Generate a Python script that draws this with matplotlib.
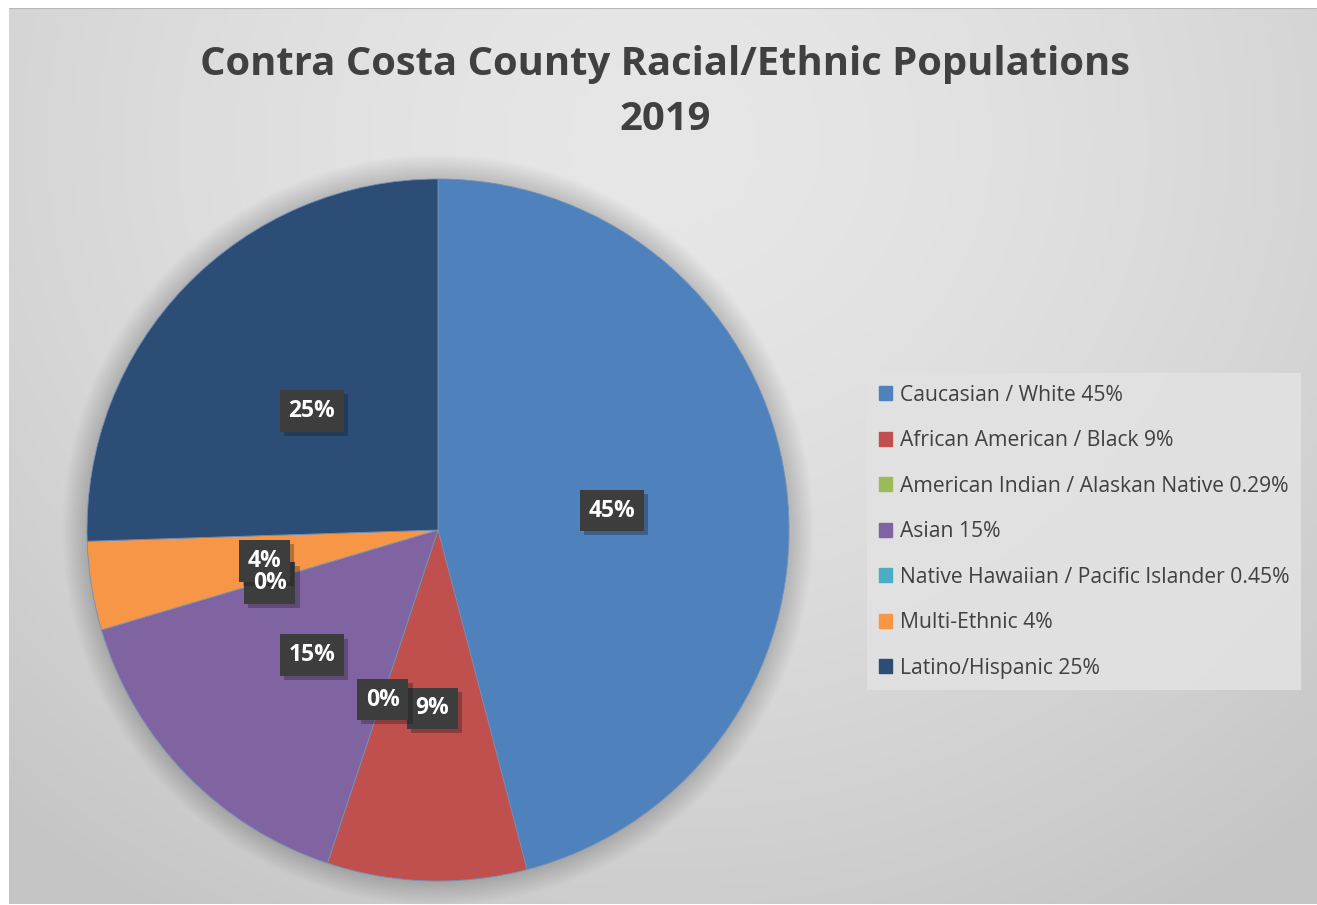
import numpy as np
import matplotlib
matplotlib.use("Agg")
import matplotlib.pyplot as plt
import matplotlib.patheffects as pe
from matplotlib.patches import Circle

# category names as shown in the legend
groups = ["Caucasian / White 45%", "African American / Black 9%",
          "American Indian / Alaskan Native 0.29%", "Asian 15%",
          "Native Hawaiian / Pacific Islander 0.45%", "Multi-Ethnic 4%",
          "Latino/Hispanic 25%"]
# slice values (whole percent)
shares = [45, 9, 0, 15, 0, 4, 25]
colors = ["#4F81BD", "#C0504D", "#9BBB59", "#8064A2",
          "#4BACC6", "#F79646", "#2C4D75"]

TXT = "#404040"
W, H = 1317, 905

fig = plt.figure(figsize=(W / 100, H / 100), dpi=100)
fig.patch.set_facecolor("white")

# gray radial backdrop
bg = fig.add_axes([9 / W, 1 / H, 1 - 9 / W, 1 - 9 / H])
yy, xx = np.mgrid[0:1:400j, 0:1:600j]
d = np.sqrt(((xx - 0.5) / 0.75) ** 2 + ((yy - 0.15) / 1.0) ** 2)
shade = 0.905 - 0.13 * np.clip(d, 0, 1) ** 1.6
bg.imshow(np.dstack([shade] * 3), extent=[0, 1, 0, 1], origin="upper",
          aspect="auto", interpolation="bilinear")
bg.axhline(1, color="#b8b8b8", lw=1.5)
bg.axis("off")

fig.text(0.505, 1 - 64 / H, "Contra Costa County Racial/Ethnic Populations",
         ha="center", va="center", fontsize=28.8, fontweight="bold",
         color=TXT, family="Open Sans")
fig.text(0.505, 1 - 120 / H, "2019", ha="center", va="center",
         fontsize=28.8, fontweight="bold", color=TXT, family="Open Sans")

# pie axes: centre (438, 530) px, radius 351 px
cx, cy, r = 438, 530, 351
ax = fig.add_axes([(cx - r) / W, (H - cy - r) / H, 2 * r / W, 2 * r / H])

wedges, _ = ax.pie(shares, colors=colors, startangle=90, counterclock=False,
                   radius=1, wedgeprops=dict(linewidth=0.6, edgecolor="#7390b8"))
ax.set_xlim(-1, 1)
ax.set_ylim(-1, 1)
ax.set_aspect("equal")
ax.axis("off")
for w in wedges:
    w.set_zorder(1)

# soft shadow round the pie
for k in range(20):
    ax.add_patch(Circle((0, 0), 1 + 0.0035 * (k + 1), color="black",
                        alpha=0.007, lw=0, zorder=0, clip_on=False))

# data labels: all boxes first, then all the texts above them
for w, v in zip(wedges, shares):
    mid = np.deg2rad((w.theta1 + w.theta2) / 2)
    x, y = 0.5 * np.cos(mid), 0.5 * np.sin(mid)
    kw = dict(ha="center", va="center_baseline", fontsize=16.5,
              fontweight="bold", family="Open Sans")
    box = ax.text(x, y, f"{v:.0f}%", color="none", zorder=3,
                  bbox=dict(boxstyle="square,pad=0.38", fc="#3d3d3d",
                            ec="none"), **kw)
    box.get_bbox_patch().set_path_effects(
        [pe.SimplePatchShadow(offset=(3, -3), alpha=0.3), pe.Normal()])
    ax.text(x, y, f"{v:.0f}%", color="white", zorder=4, **kw)

# legend
handles = [plt.Rectangle((0, 0), 1, 1, color=c) for c in colors]
leg = fig.legend(handles, groups, loc="upper left",
                 bbox_to_anchor=(867 / W, 1 - 373 / H),
                 prop=dict(family="Open Sans", size=15.2),
                 labelcolor=TXT, frameon=True, fancybox=False,
                 handlelength=0.65, handleheight=0.65, handletextpad=0.35,
                 labelspacing=1.16, borderpad=0.55, borderaxespad=0)
leg.get_frame().set_facecolor("#e2e2e2")
leg.get_frame().set_edgecolor("none")
leg.get_frame().set_alpha(0.9)

fig.savefig("out.png", dpi=100)
